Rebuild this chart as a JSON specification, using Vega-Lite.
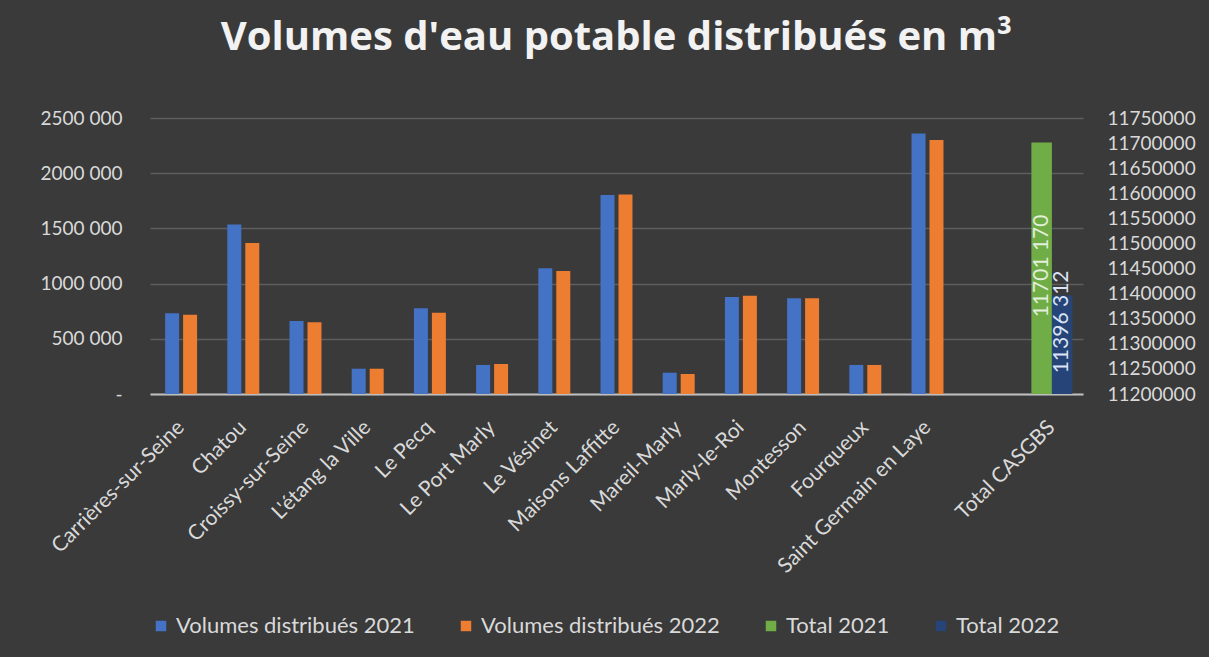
{
  "$schema": "https://vega.github.io/schema/vega-lite/v6.json",
  "autosize": {"type": "none"},
  "width": 933,
  "height": 276,
  "padding": {"left": 150, "top": 118, "right": 126, "bottom": 263},
  "background": "#3a3a3a",
  "config": {
    "font": "Lato",
    "view": {"stroke": null},
    "axis": {"labelColor": "#d9d9d9", "labelFont": "Lato", "labelFontSize": 19},
    "legend": {"labelColor": "#d9d9d9", "labelFont": "Lato", "labelFontSize": 22}
  },
  "title": {
    "text": "Volumes d'eau potable distribués en m³",
    "color": "#f2f2f2",
    "font": "Open Sans",
    "fontSize": 40,
    "fontWeight": "bold",
    "anchor": "middle",
    "offset": 51
  },
  "datasets": {
    "communes": [
      {"commune": "Carrières-sur-Seine", "series": "Volumes distribués 2021", "value": 731000},
      {"commune": "Carrières-sur-Seine", "series": "Volumes distribués 2022", "value": 718000},
      {"commune": "Chatou", "series": "Volumes distribués 2021", "value": 1535000},
      {"commune": "Chatou", "series": "Volumes distribués 2022", "value": 1368000},
      {"commune": "Croissy-sur-Seine", "series": "Volumes distribués 2021", "value": 661000},
      {"commune": "Croissy-sur-Seine", "series": "Volumes distribués 2022", "value": 649000},
      {"commune": "L'étang la Ville", "series": "Volumes distribués 2021", "value": 229000},
      {"commune": "L'étang la Ville", "series": "Volumes distribués 2022", "value": 229000},
      {"commune": "Le Pecq", "series": "Volumes distribués 2021", "value": 776000},
      {"commune": "Le Pecq", "series": "Volumes distribués 2022", "value": 736000},
      {"commune": "Le Port Marly", "series": "Volumes distribués 2021", "value": 263000},
      {"commune": "Le Port Marly", "series": "Volumes distribués 2022", "value": 272000},
      {"commune": "Le Vésinet", "series": "Volumes distribués 2021", "value": 1140000},
      {"commune": "Le Vésinet", "series": "Volumes distribués 2022", "value": 1114000},
      {"commune": "Maisons Laffitte", "series": "Volumes distribués 2021", "value": 1803000},
      {"commune": "Maisons Laffitte", "series": "Volumes distribués 2022", "value": 1808000},
      {"commune": "Mareil-Marly", "series": "Volumes distribués 2021", "value": 193000},
      {"commune": "Mareil-Marly", "series": "Volumes distribués 2022", "value": 181000},
      {"commune": "Marly-le-Roi", "series": "Volumes distribués 2021", "value": 879000},
      {"commune": "Marly-le-Roi", "series": "Volumes distribués 2022", "value": 891000},
      {"commune": "Montesson", "series": "Volumes distribués 2021", "value": 867000},
      {"commune": "Montesson", "series": "Volumes distribués 2022", "value": 867000},
      {"commune": "Fourqueux", "series": "Volumes distribués 2021", "value": 263000},
      {"commune": "Fourqueux", "series": "Volumes distribués 2022", "value": 263000},
      {"commune": "Saint Germain en Laye", "series": "Volumes distribués 2021", "value": 2360000},
      {"commune": "Saint Germain en Laye", "series": "Volumes distribués 2022", "value": 2301000}
    ],
    "totals": [
      {"commune": "Total CASGBS", "series": "Total 2021", "value": 11701170, "label": "11701 170"},
      {"commune": "Total CASGBS", "series": "Total 2022", "value": 11396312, "label": "11396 312"}
    ]
  },
  "encoding": {
    "x": {
      "field": "commune",
      "type": "nominal",
      "sort": null,
      "title": null,
      "scale": {
        "domain": ["Carrières-sur-Seine", "Chatou", "Croissy-sur-Seine", "L'étang la Ville", "Le Pecq", "Le Port Marly", "Le Vésinet", "Maisons Laffitte", "Mareil-Marly", "Marly-le-Roi", "Montesson", "Fourqueux", "Saint Germain en Laye", " ", "Total CASGBS"],
        "paddingInner": 0,
        "paddingOuter": 0
      },
      "axis": {
        "labelAngle": -45,
        "labelAlign": "right",
        "labelBaseline": "middle",
        "labelFontSize": 21,
        "labelPadding": 30,
        "labelLimit": 400,
        "ticks": false,
        "grid": false,
        "domain": true,
        "domainColor": "#bfbfbf",
        "domainWidth": 2
      }
    }
  },
  "layer": [
    {
      "data": {"name": "communes"},
      "mark": {"type": "bar"},
      "encoding": {
        "xOffset": {
          "field": "series",
          "type": "nominal",
          "scale": {"domain": ["Volumes distribués 2021", "Volumes distribués 2022"], "paddingInner": 0.222, "paddingOuter": 0.84}
        },
        "y": {
          "field": "value",
          "type": "quantitative",
          "title": null,
          "scale": {"domain": [0, 2500000], "nice": false},
          "axis": {
            "orient": "left",
            "values": [0, 500000, 1000000, 1500000, 2000000, 2500000],
            "labelExpr": "datum.value == 0 ? '-' : floor(datum.value / 1000) + ' 000'",
            "grid": true,
            "gridColor": "#5e5e5e",
            "gridWidth": 1.5,
            "domain": false,
            "ticks": false,
            "labelPadding": 28
          }
        },
        "color": {
          "field": "series",
          "type": "nominal",
          "scale": {
            "domain": ["Volumes distribués 2021", "Volumes distribués 2022", "Total 2021", "Total 2022"],
            "range": ["#4472c4", "#ed7d31", "#70ad47", "#264478"]
          },
          "legend": {
            "title": null,
            "orient": "bottom",
            "direction": "horizontal",
            "symbolType": "square",
            "symbolSize": 110,
            "symbolStrokeWidth": 0,
            "columnPadding": 40,
            "labelOffset": 4,
            "labelLimit": 0,
            "offset": 38
          }
        }
      }
    },
    {
      "data": {"name": "totals"},
      "encoding": {
        "xOffset": {
          "field": "series",
          "type": "nominal",
          "scale": {"domain": ["Total 2021", "Total 2022"], "paddingInner": 0, "paddingOuter": 0.517}
        },
        "y": {
          "field": "value",
          "type": "quantitative",
          "title": null,
          "scale": {"domain": [11200000, 11750000], "nice": false, "zero": false},
          "axis": {
            "orient": "right",
            "values": [11200000, 11250000, 11300000, 11350000, 11400000, 11450000, 11500000, 11550000, 11600000, 11650000, 11700000, 11750000],
            "format": "d",
            "grid": false,
            "domain": false,
            "ticks": false,
            "labelPadding": 24
          }
        }
      },
      "layer": [
        {
          "mark": {"type": "bar"},
          "encoding": {
            "y2": {"datum": 11200000},
            "color": {
              "field": "series",
              "type": "nominal",
              "scale": {
                "domain": ["Volumes distribués 2021", "Volumes distribués 2022", "Total 2021", "Total 2022"],
                "range": ["#4472c4", "#ed7d31", "#70ad47", "#264478"]
              }
            }
          }
        },
        {
          "transform": [{"filter": "datum.series == 'Total 2021'"}],
          "mark": {"type": "text", "angle": 270, "align": "right", "baseline": "middle", "dx": -72, "fontSize": 21, "color": "#e2efda"},
          "encoding": {"text": {"field": "label"}}
        },
        {
          "transform": [{"filter": "datum.series == 'Total 2022'"}],
          "mark": {"type": "text", "angle": 270, "align": "right", "baseline": "middle", "dx": 25, "fontSize": 21, "color": "#dae3f3"},
          "encoding": {"text": {"field": "label"}}
        }
      ]
    }
  ],
  "resolve": {"scale": {"y": "independent", "xOffset": "independent"}}
}
